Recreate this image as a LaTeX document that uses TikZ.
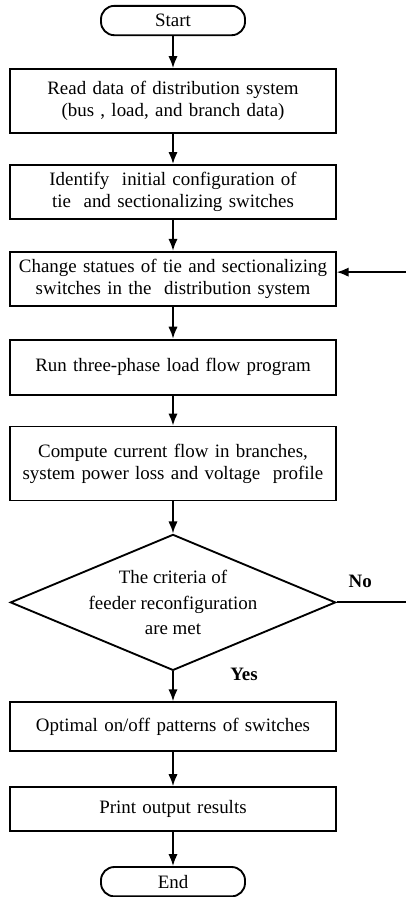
\documentclass[tikz,border=0pt]{standalone}
\usepackage{fontspec}
\setmainfont{Liberation Serif}
\usetikzlibrary{shapes.geometric, arrows.meta, positioning}
\tikzstyle{startstop} = [rectangle, rounded corners=10pt, line width=1.4pt, minimum width=108pt, minimum height=22pt, text centered, draw=black]
\tikzstyle{block} = [rectangle, line width=1.4pt, minimum width=244pt, text width=234pt, align=center, draw=black]
\tikzstyle{decision} = [diamond, line width=1.4pt, minimum width=244pt, minimum height=102pt, aspect=2.4, inner sep=0pt, align=center, draw=black]
\tikzstyle{arrow} = [line width=1.4pt, ->, >={Latex[length=9pt, width=7pt]}]

\begin{document}
\begin{tikzpicture}[font=\fontsize{14.2}{16.5}\selectfont, node distance = 24pt]
		\useasboundingbox (0,0) rectangle (304.5pt,-672.75pt);
		\node (Start) [startstop] at (129.75pt,-15.4pt) {Start};
		\node (Read) [block, minimum height=48pt, below = 24pt of Start] {Read data of distribution system\\ (bus , load, and branch data)};
		\node (Identify) [block, minimum height=40.5pt, below = 22.5pt of Read] {Identify~ initial configuration of\\ tie~ and sectionalizing switches};
		\node (Change) [block, minimum height=40.5pt, below = 23.25pt of Identify] {Change statues of tie and sectionalizing\\ switches in the~ distribution system};
		\node (Run) [block, minimum height=41.25pt, below = 24pt of Change] {Run three-phase load flow program};
		\node (Compute) [block, minimum height=55.5pt, below = 22.5pt of Run] {Compute current flow in branches,\\ system power loss and voltage~ profile};
		\node (Check) [decision, below = 24pt of Compute] {The criteria of\\[3pt] feeder reconfiguration\\[2pt] are met};
		\node (Optimal) [block, minimum height=36.75pt, below = 22.5pt of Check] {Optimal on/off patterns of switches};
		\node (Print) [block, minimum height=33pt, below = 25.5pt of Optimal] {Print output results};
		\node (End) [startstop, below = 25.5pt of Print] {End};
		\coordinate (Loop) at (306pt,0);
		\draw [arrow] (Start) -- (Read);
		\draw [arrow] (Read) -- (Identify);
		\draw [arrow] (Identify) -- (Change);
		\draw [arrow] (Change) -- (Run);
		\draw [arrow] (Run) -- (Compute);
		\draw [arrow] (Compute) -- (Check);
		\draw [arrow] (Check) -- node[pos=0.1, right=39pt] {\textbf{Yes}} (Optimal);
		\draw [arrow] (Optimal) -- (Print);
		\draw [arrow] (Print) -- (End);
		\draw [arrow] (Check.east) -- node[pos=0.33, above=7pt] {\textbf{No}} (Check.east -| Loop) |- ([yshift=5pt]Change.east);
		\end{tikzpicture}
\end{document}
